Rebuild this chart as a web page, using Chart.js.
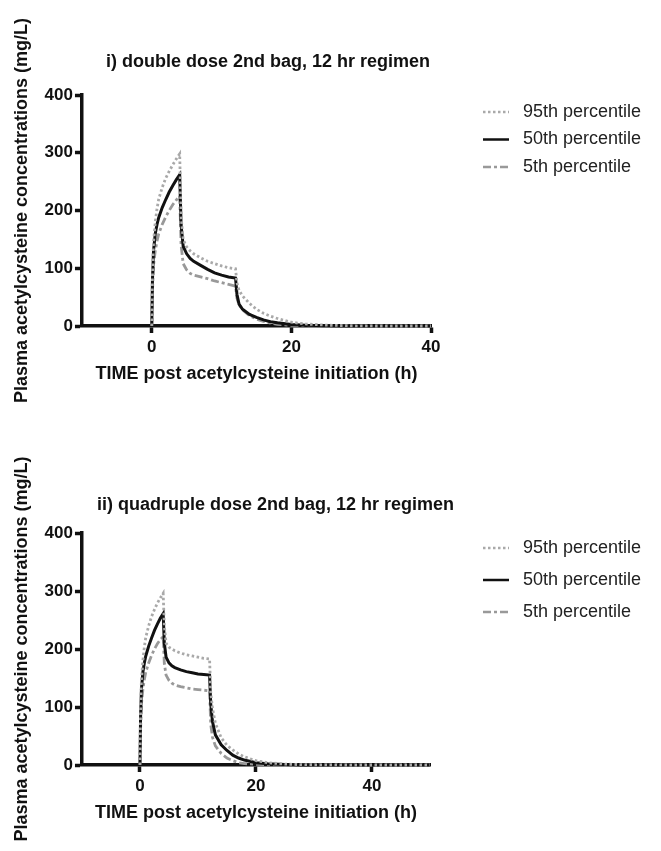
<!DOCTYPE html>
<html>
<head>
<meta charset="utf-8">
<script src="https://cdn.jsdelivr.net/npm/chart.js@4.4.1/dist/chart.umd.min.js"></script>
<style>
  body { margin: 0; background: #fff; }
  .panel { position: absolute; left: 0; width: 661px; }
  #top { top: 0; height: 425px; }
  #bottom { top: 425px; height: 426px; }
</style>
</head>
<body>
<div class="panel" id="top"><canvas id="chartTop" width="661" height="425"></canvas></div>
<div class="panel" id="bottom"><canvas id="chartBottom" width="661" height="426"></canvas></div>
<script>
"use strict"

const seriesLabels = ['95th percentile', '50th percentile', '5th percentile'];
const yTicks = [0, 100, 200, 300, 400];
const xTicksTop = [0, 20, 40];
const xTicksBottom = [0, 20, 40];

// i) double dose 2nd bag
const timeTop = [0, 0.1, 0.25, 0.5, 0.75, 1, 1.5, 2, 2.5, 3, 3.5, 4, 4.2, 4.5, 5, 5.5, 6, 7, 8, 9, 10, 11, 12,
  12.2, 12.5, 13, 14, 15, 16, 17, 18, 20, 22, 25, 28, 32, 36, 40];
const p95Top = [0, 90, 145, 180, 203, 220, 240, 256, 268, 279, 289, 298, 190, 150, 137, 130, 125, 118, 112, 108, 104, 101, 99,
  75, 62, 52, 39, 29, 22, 17, 13, 6.5, 3.5, 1.5, 0.5, 0, 0, 0];
const p50Top = [0, 80, 130, 160, 176, 188, 205, 219, 232, 243, 253, 262, 175, 138, 125, 117, 112, 105, 98, 92, 88, 85, 83,
  55, 38, 29, 20, 15, 10.5, 7.5, 5.5, 2.8, 1.4, 0.5, 0.2, 0, 0, 0];
const p5Top = [0, 60, 105, 130, 147, 160, 176, 189, 200, 210, 218, 225, 140, 108, 97, 91, 88, 85, 82, 78, 75, 72, 69,
  48, 37, 28, 18, 12, 8, 5, 3, 1, 0.5, 0, 0, 0, 0, 0];

// ii) quadruple dose 2nd bag
const timeBottom = [0, 0.1, 0.25, 0.5, 0.75, 1, 1.5, 2, 2.5, 3, 3.5, 4, 4.2, 4.5, 5, 5.5, 6, 7, 8, 9, 10, 11, 12,
  12.2, 12.5, 13, 14, 15, 16, 17, 18, 20, 22, 25, 28, 32, 36, 40, 45, 50];
const p95Bottom = [0, 90, 145, 180, 203, 220, 240, 256, 268, 279, 288, 296, 240, 210, 203, 200, 197, 193, 190, 188, 186, 184, 183,
  125, 98, 72, 47, 34, 26, 19, 14, 7.5, 4, 1.5, 0.6, 0.2, 0, 0, 0, 0];
const p50Bottom = [0, 80, 130, 160, 176, 188, 205, 219, 232, 243, 253, 261, 210, 186, 176, 171, 168, 164, 161, 159, 157, 156, 155,
  105, 75, 52, 35, 25, 17, 12, 8.5, 4, 2, 0.7, 0.2, 0, 0, 0, 0, 0];
const p5Bottom = [0, 60, 105, 130, 147, 160, 176, 189, 200, 209, 216, 221, 175, 155, 146, 141, 138, 135, 133, 131, 130, 129, 128,
  70, 48, 33, 20, 12, 7.5, 4, 2.5, 1, 0.3, 0, 0, 0, 0, 0, 0, 0];

const fontFamily = '"Liberation Sans", Arial, Helvetica, sans-serif';
const ink = '#111';

function toPoints(times, values) {
  return times.map((t, i) => ({ x: t, y: values[i] }));
}

function buildDatasets(times, p95, p50, p5) {
  return [
    { label: seriesLabels[0], data: toPoints(times, p95), borderColor: '#a9a9a9', borderWidth: 2.8, borderDash: [2.5, 2.5] },
    { label: seriesLabels[1], data: toPoints(times, p50), borderColor: ink, borderWidth: 3, borderDash: [] },
    { label: seriesLabels[2], data: toPoints(times, p5), borderColor: '#999999', borderWidth: 2.8, borderDash: [8, 3, 3, 3] }
  ];
}

// title + legend drawn at fixed spots beside the plot
const panelText = {
  id: 'panelText',
  afterDraw(chart, args, opts) {
    const ctx = chart.ctx;
    ctx.save();
    ctx.textBaseline = 'middle';
    ctx.fillStyle = ink;
    ctx.font = 'bold 18px ' + fontFamily;
    ctx.fillText(opts.title, opts.titleX, opts.titleY);
    ctx.font = '18px ' + fontFamily;
    chart.data.datasets.forEach((ds, i) => {
      const y = opts.legendY + i * opts.legendGap;
      ctx.beginPath();
      ctx.setLineDash(ds.borderDash);
      ctx.strokeStyle = ds.borderColor;
      ctx.lineWidth = 2.5;
      ctx.moveTo(opts.legendX, y);
      ctx.lineTo(opts.legendX + 26, y);
      ctx.stroke();
      ctx.setLineDash([]);
      ctx.fillStyle = '#222';
      ctx.fillText(ds.label, opts.legendX + 40, y);
    });
    ctx.restore();
  }
};

function makeChart(canvasId, datasets, xMax, xTicks, padding, textOpts) {
  const ctx = document.getElementById(canvasId).getContext('2d');
  return new Chart(ctx, {
    type: 'line',
    data: { datasets: datasets },
    plugins: [panelText],
    options: {
      responsive: false,
      animation: false,
      devicePixelRatio: 1,
      layout: { padding: padding },
      elements: {
        point: { radius: 0 },
        line: { tension: 0, fill: false }
      },
      datasets: { line: { clip: 6 } },
      plugins: {
        legend: { display: false },
        tooltip: { enabled: false },
        panelText: textOpts
      },
      scales: {
        x: {
          type: 'linear',
          min: -10,
          max: xMax,
          afterBuildTicks: axis => { axis.ticks = xTicks.map(v => ({ value: v })); },
          border: { color: ink, width: 3.5 },
          grid: { drawOnChartArea: false, tickLength: 7, tickWidth: 3.5, tickColor: ink },
          ticks: { color: ink, padding: 4, maxRotation: 0, font: { family: fontFamily, size: 17, weight: 'bold' } },
          title: {
            display: true,
            text: 'TIME post acetylcysteine initiation (h)',
            color: ink,
            padding: { top: 2, bottom: 0 },
            font: { family: fontFamily, size: 18, weight: 'bold' }
          }
        },
        y: {
          min: 0,
          max: 400,
          afterBuildTicks: axis => { axis.ticks = yTicks.map(v => ({ value: v })); },
          border: { color: ink, width: 3.5 },
          grid: { drawOnChartArea: false, tickLength: 7, tickWidth: 3.5, tickColor: ink },
          ticks: { color: ink, padding: 2, font: { family: fontFamily, size: 17, weight: 'bold' } },
          title: {
            display: true,
            text: 'Plasma acetylcysteine concentrations (mg/L)',
            color: ink,
            padding: { top: 0, bottom: 10 },
            font: { family: fontFamily, size: 18, weight: 'bold' }
          }
        }
      }
    }
  });
}

makeChart('chartTop', buildDatasets(timeTop, p95Top, p50Top, p5Top), 40, xTicksTop,
  { left: 11, right: 230, top: 95, bottom: 40 },
  { title: 'i) double dose 2nd bag, 12 hr regimen', titleX: 106, titleY: 62, legendX: 483, legendY: 112, legendGap: 27.5 });

makeChart('chartBottom', buildDatasets(timeBottom, p95Bottom, p50Bottom, p5Bottom), 50, xTicksBottom,
  { left: 11, right: 231, top: 108, bottom: 27 },
  { title: 'ii) quadruple dose 2nd bag, 12 hr regimen', titleX: 97, titleY: 80, legendX: 483, legendY: 123, legendGap: 32 });
</script>
</body>
</html>
